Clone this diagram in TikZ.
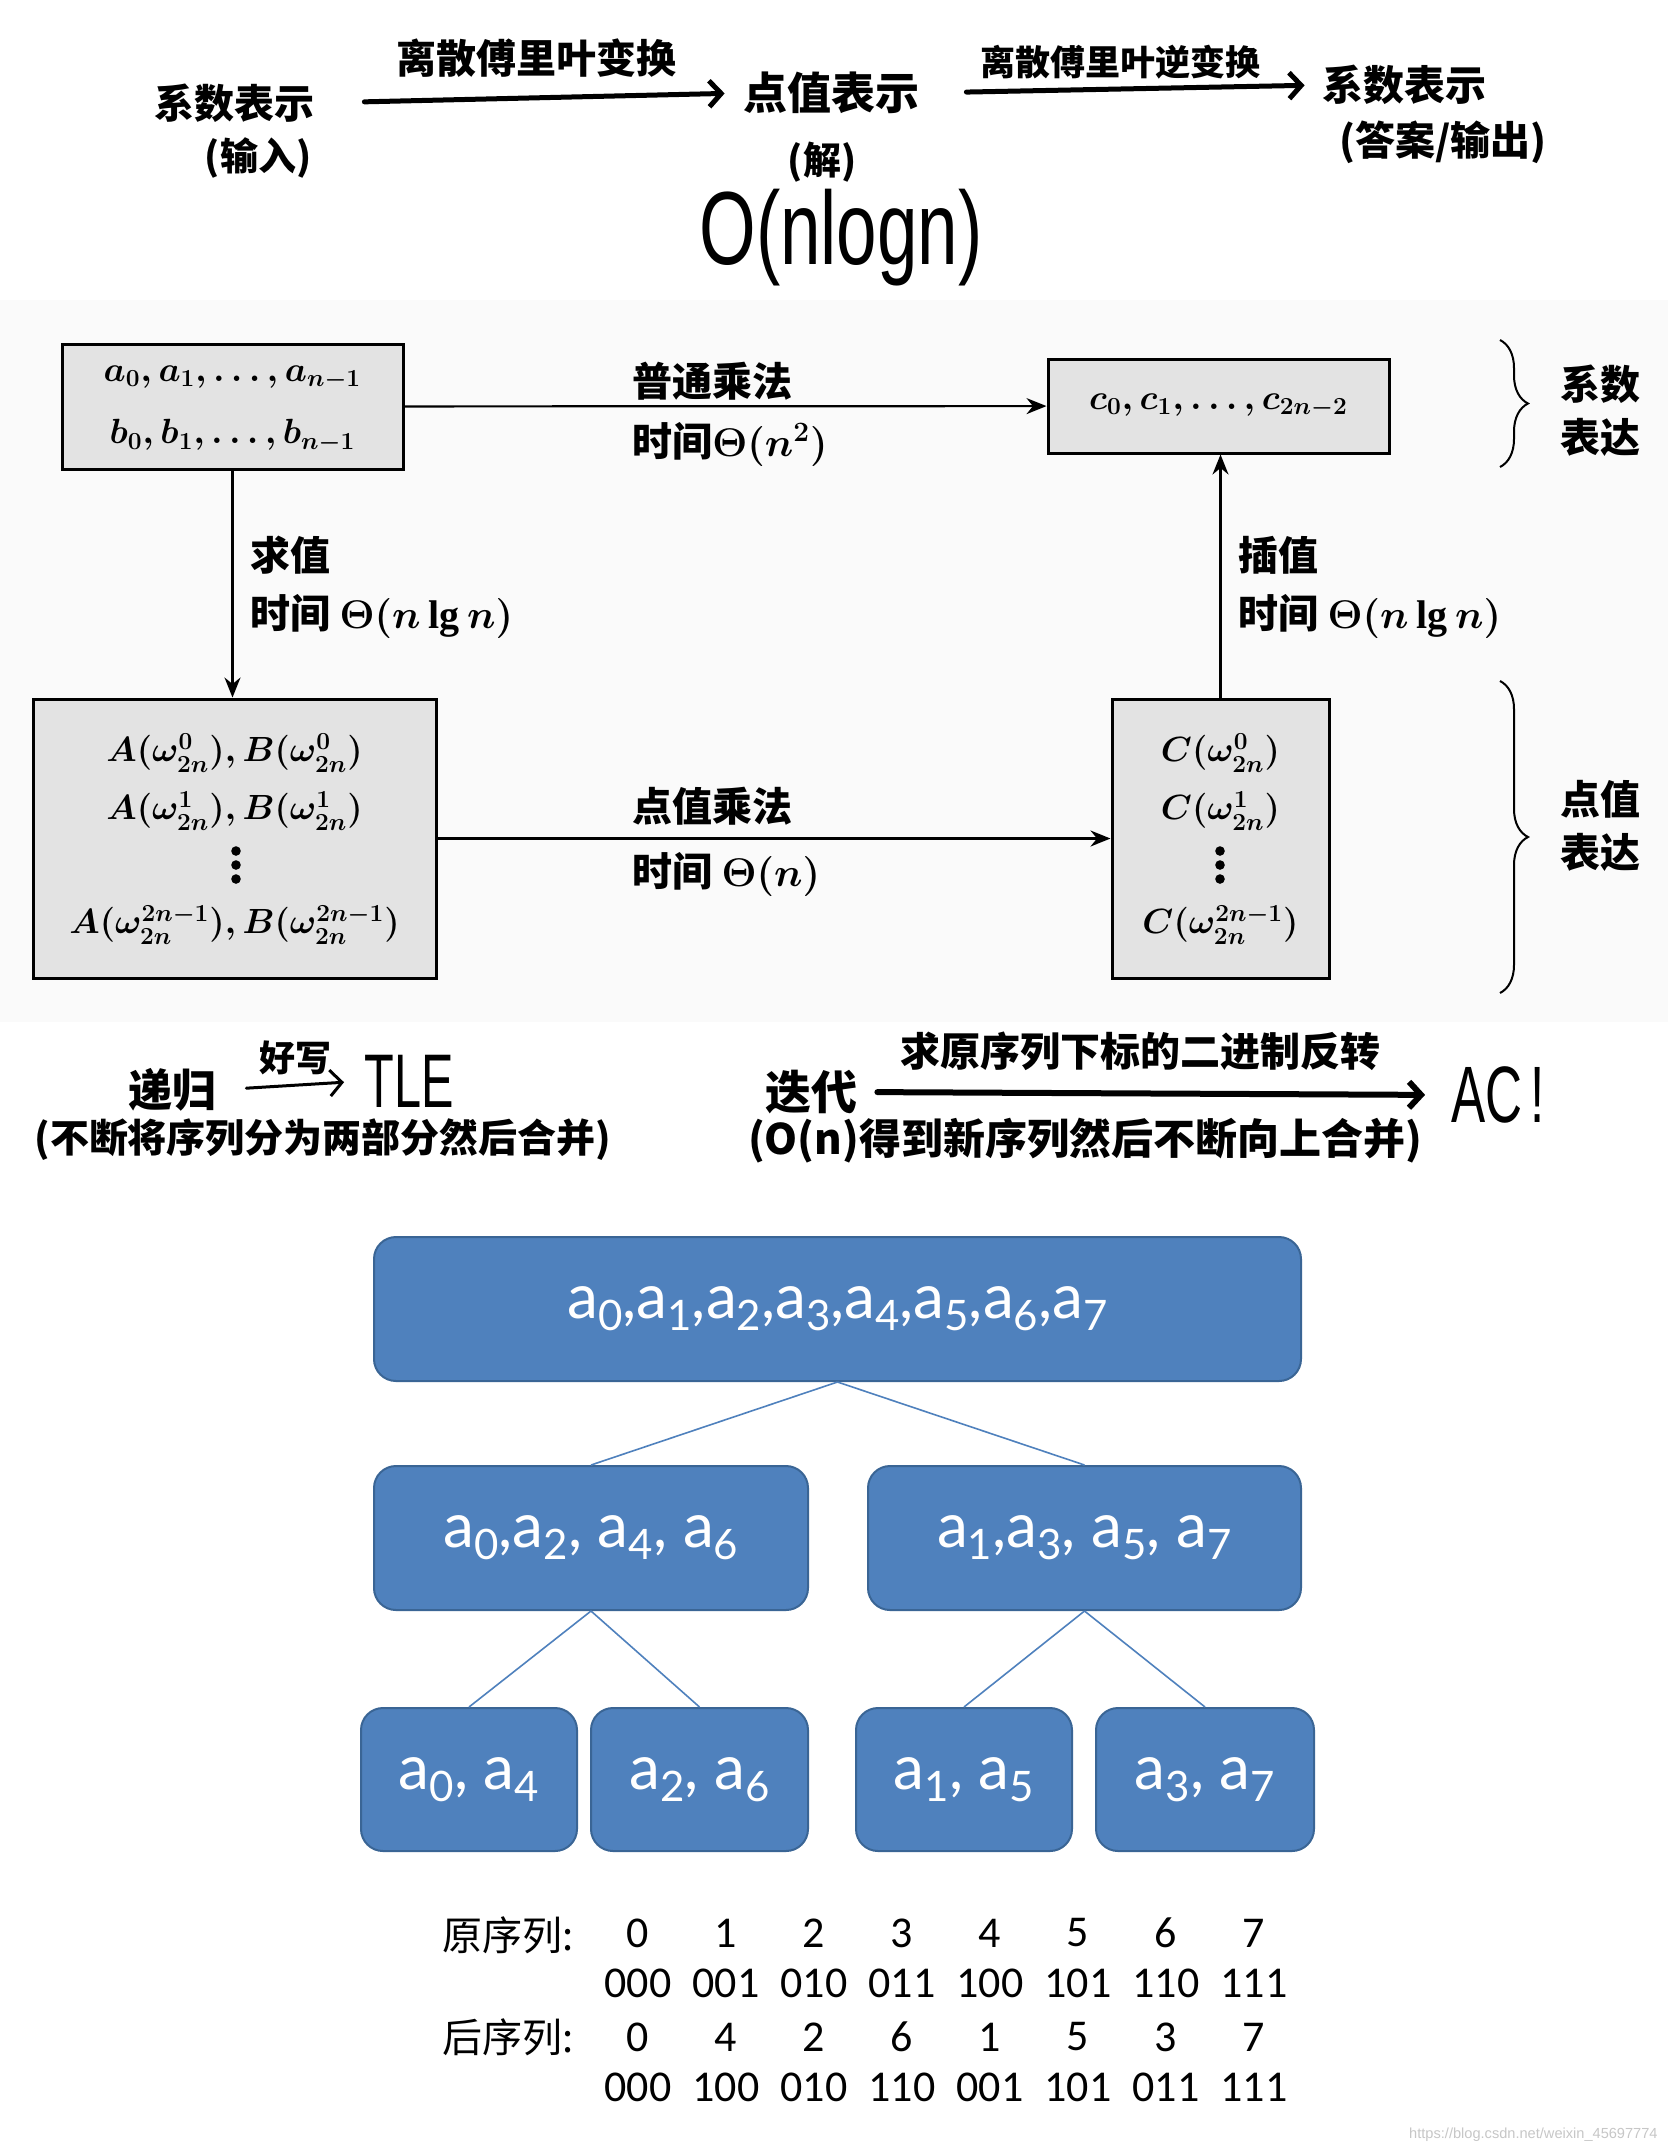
\documentclass[tikz,border=0pt]{standalone}
\usepackage{fix-cm}
\usepackage{fontspec}
\setmainfont{Liberation Serif}
\newfontfamily\cjk{Noto Sans CJK SC}
\newfontfamily\treefont{Lato}
\newfontfamily\numfont{Carlito}
\newfontfamily\hand{Liberation Sans}
\usetikzlibrary{arrows.meta,decorations.pathreplacing}
\definecolor{tblue}{HTML}{4F81BD}
\definecolor{tbord}{HTML}{3A6595}
\newcommand\fs[2]{\fontsize{#1}{#2}\selectfont}
\newcommand\tsub[1]{\raisebox{-6pt}{\fontsize{21pt}{21pt}\selectfont #1}}
\newcommand\ta[1]{a\tsub{#1}}
\tikzset{
  hw/.style={inner sep=0pt},
  figbox/.style={draw=black, line width=1.5pt, fill=black!11, inner sep=0pt},
  mtext/.style={inner sep=0pt, font=\fs{17.5pt}{26pt}\boldmath},
  farrow/.style={line width=1.1pt, -{Stealth[length=10pt,width=8pt]}},
  harrow/.style={line width=2.5pt, line cap=round, -{Straight Barb[length=6pt,width=13pt]}},
  tbox/.style={draw=tbord, line width=1pt, fill=tblue, rounded corners=11pt, text=white, inner sep=0pt, font=\treefont\fs{31pt}{31pt}},
  tline/.style={draw=tblue, line width=0.8pt},
  lbl/.style={font=\cjk\bfseries\fs{20pt}{24pt}\boldmath, anchor=west, inner sep=0pt},
  num/.style={font=\numfont\fs{22pt}{22pt}, inner sep=0pt},
  bracestyle/.style={line width=1pt, decorate, decoration={brace, amplitude=14pt}},
  dotmark/.style={fill=black}
}
\begin{document}
\begin{tikzpicture}[x=0.5pt, y=-0.5pt]
\fill[white] (0,0) rectangle (1668,2154);
\useasboundingbox (0,0) rectangle (1668,2154);
\fill[black!2] (0,300) rectangle (1668,1022);

% ---- top handwritten row ----
\node[hw, font=\cjk\bfseries\fs{20pt}{20pt}] (t1) at (234,103) {系数表示};
\node[hw, font=\cjk\bfseries\fs{19pt}{19pt}] (t2) at (258,158) {(输入)};
\node[hw, font=\cjk\bfseries\fs{22pt}{22pt}] (t3) at (831,93) {点值表示};
\node[hw, font=\cjk\bfseries\fs{19pt}{19pt}] (t4) at (822,162) {(解)};
\node[hw, font=\hand\fs{52pt}{52pt}] (t5) at (841,238) {\scalebox{0.7}[1]{O(nlogn)}};
\node[hw, font=\cjk\bfseries\fs{20.5pt}{20.5pt}] (t6) at (1404,85) {系数表示};
\node[hw, font=\cjk\bfseries\fs{20pt}{20pt}] (t7) at (1443,142) {(答案/输出)};
\node[hw, font=\cjk\bfseries\fs{20pt}{20pt}] (l1) at (536,58) {离散傅里叶变换};
\node[hw, font=\cjk\bfseries\fs{17.5pt}{17.5pt}] (l2) at (1120,62) {离散傅里叶逆变换};
\draw[harrow, shorten <=25pt, shorten >=9pt] (t1.east) -- (t3.west);
\draw[harrow, shorten <=23.5pt, shorten >=8.5pt] (t3.east) -- (t6.west);

% ---- printed figure ----
\node[figbox, minimum width=170.5pt, minimum height=62.5pt] (A) at (232.5,406.5) {};
\node[mtext] (a1) at (232.5,378) {$a_0, a_1, \ldots, a_{n-1}$};
\node[mtext] (a2) at (232.5,436) {$b_0, b_1, \ldots, b_{n-1}$};
\node[figbox, minimum width=170.5pt, minimum height=47pt] (C) at (1218.5,406) {};
\node[mtext] (c1) at (1218.5,406) {$c_0, c_1, \ldots, c_{2n-2}$};
\node[figbox, minimum width=201.5pt, minimum height=139.5pt] (P) at (234.5,838.5) {};
\node[mtext] (p1) at (234.5,753) {$A(\omega_{2n}^0), B(\omega_{2n}^0)$};
\node[mtext] (p2) at (234.5,811) {$A(\omega_{2n}^1), B(\omega_{2n}^1)$};
\node[mtext] (p4) at (234.5,925) {$A(\omega_{2n}^{2n-1}), B(\omega_{2n}^{2n-1})$};
\foreach \yy in {851,865,879} \fill[dotmark] (236,\yy) circle (2.4pt);
\node[figbox, minimum width=108.5pt, minimum height=139.5pt] (Q) at (1220.5,838.5) {};
\node[mtext] (q1) at (1220.5,753) {$C(\omega_{2n}^0)$};
\node[mtext] (q2) at (1220.5,811) {$C(\omega_{2n}^1)$};
\node[mtext] (q4) at (1220.5,925) {$C(\omega_{2n}^{2n-1})$};
\foreach \yy in {851,865,879} \fill[dotmark] (1220,\yy) circle (2.4pt);
\draw[farrow] (A) -- (C);
\draw[farrow] (A.south) -- (A.south |- P.north);
\draw[farrow] (P) -- (Q);
\draw[farrow] (Q.north) -- (Q.north |- C.south);

\node[lbl] (m1) at (632,381) {普通乘法};
\node[lbl] (m2) at (632,444) {时间$\Theta(n^2)$};
\node[lbl] (m3) at (250,555) {求值};
\node[lbl] (m4) at (250,616) {时间 $\Theta(n\lg n)$};
\node[lbl] (m5) at (1238,555) {插值};
\node[lbl] (m6) at (1238,616) {时间 $\Theta(n\lg n)$};
\node[lbl] (m7) at (632,806) {点值乘法};
\node[lbl] (m8) at (632,874) {时间 $\Theta(n)$};

\draw[bracestyle] (1500,340) -- (1500,467);
\draw[bracestyle] (1500,681) -- (1500,993);
\node[hw, font=\cjk\bfseries\fs{20pt}{26.5pt}, align=center] (k1) at (1600,411) {系数\\表达};
\node[hw, font=\cjk\bfseries\fs{20pt}{26.5pt}, align=center] (k2) at (1600,826) {点值\\表达};

% ---- bottom handwritten row ----
\node[hw, font=\cjk\bfseries\fs{22pt}{22pt}] (r1) at (172,1090) {递归};
\node[hw, font=\cjk\bfseries\fs{18pt}{18pt}] (r2) at (295,1058) {好写};
\node[hw, font=\hand\fs{38pt}{38pt}] (r3) at (409,1081) {\scalebox{0.64}[1]{TLE}};
\draw[harrow, line width=1.5pt, shorten <=15pt, shorten >=10pt] (r1.east) -- (r3.west);
\node[hw, font=\cjk\bfseries\fs{19.5pt}{19.5pt}] (r4) at (323,1140) {(不断将序列分为两部分然后合并)};
\node[hw, font=\cjk\bfseries\fs{23pt}{23pt}] (s1) at (811,1092) {迭代};
\node[hw, font=\cjk\bfseries\fs{20pt}{20pt}] (s2) at (1140,1051) {求原序列下标的二进制反转};
\node[hw, font=\hand\fs{40pt}{40pt}] (s3) at (1498,1095) {\scalebox{0.64}[1]{AC\hspace{6pt}!}};
\draw[harrow, line width=3pt, shorten <=10pt, shorten >=13pt] (s1.east) -- (s3.west);
\node[hw, font=\cjk\bfseries\fs{21pt}{21pt}] (s4) at (1085,1141) {(O(n)得到新序列然后不断向上合并)};

% ---- tree ----
\node[tbox, minimum width=463.5pt, minimum height=72pt] (R) at (837.5,1309)
  {\ta0,\ta1,\ta2,\ta3,\ta4,\ta5,\ta6,\ta7};
\node[tbox, minimum width=217pt, minimum height=72pt] (La) at (591,1538)
  {\ta0,\ta2, \ta4, \ta6};
\node[tbox, minimum width=216.5pt, minimum height=72pt] (Lb) at (1084.5,1538)
  {\ta1,\ta3, \ta5, \ta7};
\node[tbox, minimum width=108pt, minimum height=71.5pt] (B1) at (469,1779.5) {\ta0, \ta4};
\node[tbox, minimum width=108.5pt, minimum height=71.5pt] (B2) at (699.5,1779.5) {\ta2, \ta6};
\node[tbox, minimum width=108pt, minimum height=71.5pt] (B3) at (964,1779.5) {\ta1, \ta5};
\node[tbox, minimum width=109pt, minimum height=71.5pt] (B4) at (1205,1779.5) {\ta3, \ta7};
\draw[tline] (R.south) -- (La.north);
\draw[tline] (R.south) -- (Lb.north);
\draw[tline] (La.south) -- (B1.north);
\draw[tline] (La.south) -- (B2.north);
\draw[tline] (Lb.south) -- (B3.north);
\draw[tline] (Lb.south) -- (B4.north);

% ---- table ----
\node[hw, font=\cjk\fs{20pt}{20pt}, anchor=east] (o1) at (574,1935) {原序列:};
\node[hw, font=\cjk\fs{20pt}{20pt}, anchor=east] (o2) at (574,2037) {后序列:};
\foreach \d [count=\i from 0] in {0,1,2,3,4,5,6,7}
  \node[num] (oa\i) at (638+88*\i,1933) {\d};
\foreach \d [count=\i from 0] in {000,001,010,011,100,101,110,111}
  \node[num] (ob\i) at (638+88*\i,1983) {\d};
\foreach \d [count=\i from 0] in {0,4,2,6,1,5,3,7}
  \node[num] (pa\i) at (638+88*\i,2037) {\d};
\foreach \d [count=\i from 0] in {000,100,010,110,001,101,011,111}
  \node[num] (pb\i) at (638+88*\i,2087) {\d};

\node[hw, anchor=east, font=\hand\fs{7.3pt}{8pt}, text=black!22] (wm) at (1658,2135) {https://blog.csdn.net/weixin\_45697774};
\end{tikzpicture}
\end{document}
